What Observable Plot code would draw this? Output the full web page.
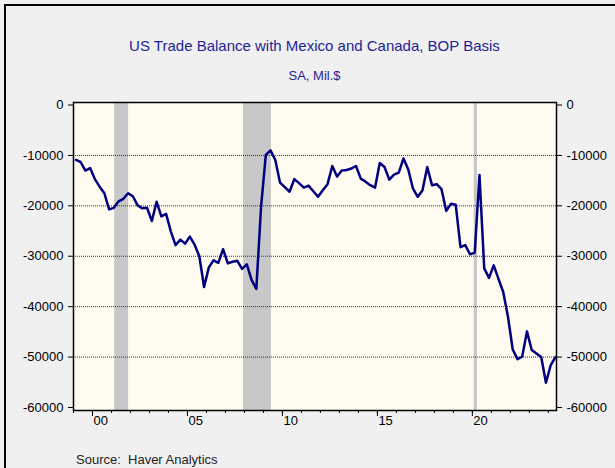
<!DOCTYPE html>
<html><head><meta charset="utf-8">
<script src="https://cdn.jsdelivr.net/npm/d3@7"></script>
<script src="https://cdn.jsdelivr.net/npm/@observablehq/plot@0.6"></script>
<style>
html,body{margin:0;padding:0;width:615px;height:468px;overflow:hidden;background:#f0f0f0;font-family:"Liberation Sans",Arial,sans-serif;}
#frame{position:absolute;left:4px;top:4px;width:700px;height:600px;border-left:2px solid #000;border-top:2px solid #000;}
#chart{position:absolute;left:0;top:0;}
.t{position:absolute;left:73px;width:483px;text-align:center;color:#1f1f96;white-space:nowrap;}
</style></head><body>
<div id="frame"></div>
<div id="chart"></div>
<div class="t" id="title" style="top:37px;font-size:15px">US Trade Balance with Mexico and Canada, BOP Basis</div>
<div class="t" id="sub" style="top:68px;font-size:13px">SA, Mil.$</div>
<div id="src" style="position:absolute;left:76px;top:452px;font-size:13px;color:#222">Source:&nbsp; Haver Analytics</div>
<script>
// Quarterly data, first observation 1999Q1, last 2024Q2
const firstYear = 1999;
const balance = [
  -10900, -11300, -13000, -12500,   // 1999
  -14700, -16200, -17500, -20700,   // 2000
  -20400, -19100, -18600, -17500,   // 2001
  -18100, -19900, -20500, -20400,   // 2002
  -23000, -19200, -22100, -21600,   // 2003
  -25100, -27800, -26700, -27500,   // 2004
  -26100, -27700, -30000, -36100,   // 2005
  -32200, -30800, -31300, -28600,   // 2006
  -31400, -31100, -30900, -32500,   // 2007
  -31600, -34700, -36500, -20200,   // 2008
  -9900, -9000, -10900, -15400,     // 2009
  -16300, -17200, -14700, -15500,   // 2010
  -16400, -16000, -17100, -18200,   // 2011
  -16900, -15700, -12100, -14200,   // 2012
  -13000, -12900, -12600, -12100,   // 2013
  -14600, -15200, -15900, -16400,   // 2014
  -11500, -12300, -14800, -13800,   // 2015
  -13400, -10600, -12800, -16600,   // 2016
  -18200, -16900, -12300, -15900,   // 2017
  -15700, -16700, -21000, -19600,   // 2018
  -19800, -28200, -27800, -29600,   // 2019
  -29300, -13900, -32400, -34300,   // 2020
  -31800, -34500, -37100, -42000,   // 2021
  -48500, -50400, -49900, -44900,   // 2022
  -48600, -49300, -50000, -55100,   // 2023
  -51600, -50000                    // 2024
];
const recessionStart = [2001.17, 2007.95, 2020.1];
const recessionEnd   = [2001.9, 2009.42, 2020.27];
const yTicks = [0, -10000, -20000, -30000, -40000, -50000, -60000];
const gridValues = [-10000, -20000, -30000, -40000, -50000];
const majorYears = [2000, 2005, 2010, 2015, 2020];
const majorLabels = ["00", "05", "10", "15", "20"];
const minorYears = [1999,2000,2001,2002,2003,2004,2005,2006,2007,2008,2009,2010,2011,2012,2013,2014,2015,2016,2017,2018,2019,2020,2021,2022,2023,2024];

const data = balance.map((v, i) => ({t: firstYear + 0.125 + 0.25 * i, v}));
const recessions = recessionStart.map((s, i) => ({s, e: recessionEnd[i]}));
const xLabels = majorYears.map((y, i) => ({y, label: majorLabels[i]}));

const chart = Plot.plot({
  width: 615, height: 468,
  marginTop: 102, marginBottom: 58, marginLeft: 73, marginRight: 59,
  style: {background: "transparent", fontFamily: "Liberation Sans, Arial, sans-serif", fontSize: "13px", color: "#000"},
  x: {domain: [1999.0, 2024.43]},
  y: {domain: [-60600, 500]},
  marks: [
    Plot.frame({fill: "#fffbf0", stroke: null}),
    Plot.rect(recessions, {x1: "s", x2: "e", fill: "#c8c8c8"}),
    Plot.ruleY(gridValues, {stroke: "#333", strokeDasharray: "1,1", strokeWidth: 1}),
    Plot.line(data, {x: "t", y: "v", stroke: "#000080", strokeWidth: 2.5}),
    Plot.axisY({anchor: "left", ticks: yTicks, tickSize: 5, tickPadding: 5, label: null, tickFormat: d => String(d)}),
    Plot.axisY({anchor: "right", ticks: yTicks, tickSize: 5, tickPadding: 5, label: null, tickFormat: d => String(d)}),
    Plot.axisX({ticks: minorYears, tickSize: 3, tickFormat: () => "", label: null}),
    Plot.axisX({ticks: majorYears, tickSize: 6, tickFormat: () => "", label: null}),
    Plot.text(xLabels, {x: "y", frameAnchor: "bottom", dy: 14, dx: 1, text: "label", textAnchor: "start", fontSize: 13, fill: "#000"}),
    Plot.frame({stroke: "#000", strokeWidth: 1.5})
  ]
});
document.getElementById("chart").appendChild(chart);
</script>
</body></html>
